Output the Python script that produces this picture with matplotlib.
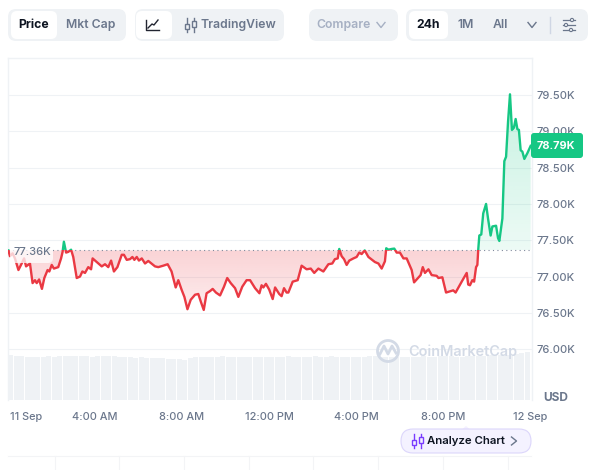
import matplotlib
matplotlib.use('Agg')
import matplotlib.pyplot as plt
import numpy as np
from matplotlib.patches import FancyBboxPatch, Rectangle, PathPatch, Circle, Polygon
from matplotlib.path import Path

plt.rcParams['font.family'] = ['Inter', 'DejaVu Sans']

base_price = 77.36
last_price = 78.79

hours = [0.02,0.09,0.21,0.32,0.48,0.63,0.74,0.83,1.01,1.13,1.24,1.32,1.43,1.56,1.67,1.82,1.90,2.01,2.11,2.31,
         2.44,2.51,2.57,2.67,2.77,2.90,3.00,3.16,3.31,3.42,3.54,3.69,3.82,3.89,4.08,4.31,4.46,4.61,4.74,4.87,
         5.03,5.23,5.33,5.46,5.61,5.72,5.81,5.92,6.02,6.15,6.30,6.45,6.76,6.91,7.14,7.34,7.52,7.71,7.83,7.98,
         8.11,8.25,8.40,8.60,8.75,8.87,9.00,9.13,9.29,9.41,9.56,9.75,9.93,10.08,10.24,10.44,10.59,10.77,10.97,11.13,
         11.36,11.56,11.66,11.74,11.86,12.01,12.17,12.28,12.47,12.58,12.69,12.81,12.89,13.09,13.32,13.50,13.73,13.92,14.08,14.27,
         14.50,14.73,14.91,15.03,15.16,15.23,15.34,15.45,15.57,15.69,15.88,16.03,16.15,16.26,16.40,16.57,16.87,17.03,17.18,17.33,
         17.39,17.49,17.64,17.76,17.87,18.02,18.18,18.33,18.56,18.67,18.79,18.97,19.07,19.17,19.33,19.48,19.71,19.79,19.97,20.14,
         20.47,20.58,20.86,21.09,21.16,21.24,21.35,21.43,21.52,21.58,21.62,21.67,21.76,21.85,21.98,22.07,22.19,22.27,22.44,22.53,
         22.59,22.73,22.77,22.82,22.90,22.99,23.08,23.17,23.26,23.34,23.42,23.49,23.57,23.65,23.74,23.88,24.03]
prices = [77.36,77.28,77.32,77.25,77.09,77.18,77.25,77.14,77.18,76.91,76.95,76.91,76.96,76.83,76.98,77.09,77.07,77.16,77.11,77.13,
          77.25,77.34,77.48,77.33,77.34,77.37,77.27,76.98,77.00,77.07,77.05,77.13,77.10,77.25,77.20,77.14,77.17,77.13,77.22,77.07,
          77.13,77.30,77.30,77.23,77.24,77.27,77.23,77.27,77.22,77.25,77.18,77.215,77.14,77.13,77.15,77.17,77.07,76.85,76.95,76.82,
          76.72,76.55,76.68,76.75,76.76,76.65,76.54,76.77,76.80,76.83,76.78,76.74,76.86,76.98,76.91,76.84,76.72,76.86,76.95,76.95,
          76.84,76.77,76.88,76.85,76.90,76.82,76.69,76.85,76.76,76.73,76.84,76.78,76.78,76.93,76.95,77.15,77.10,77.11,77.05,77.11,
          77.07,77.17,77.18,77.24,77.25,77.38,77.28,77.24,77.16,77.22,77.25,77.27,77.33,77.31,77.36,77.27,77.20,77.18,77.11,77.21,
          77.39,77.37,77.38,77.385,77.33,77.33,77.25,77.25,77.09,76.92,76.96,77.02,77.13,77.05,77.10,77.02,77.01,76.98,76.99,76.78,
          76.81,76.78,76.93,77.05,76.89,76.88,76.95,76.93,77.13,77.16,77.37,77.565,77.58,77.87,78.00,77.80,77.565,77.69,77.70,77.53,
          77.49,77.80,78.17,78.59,78.65,79.13,79.51,79.02,79.05,79.17,79.03,79.02,78.74,78.72,78.62,78.70,78.80]

# volume, one bar per 15 min, arbitrary units (px tall in the reference)
volume = [45,44,44,43,43,43,43,44,43,44,44,44,44,44,44,43,44,44,44,44,43,43,43,42,
          43,42,42,42,42,41,41,41,40,42,43,43,43,43,43,44,43,43,43,43,43,43,43,43,
          43,43,43,44,43,43,43,43,44,43,43,44,43,43,43,43,43,43,44,44,43,43,43,43,
          43,43,43,43,44,43,43,44,44,44,43,43,44,44,44,44,45,45,45,45,45,46,47,48]

price_ticks = [76.0,76.5,77.0,77.5,78.0,78.5,79.0,79.5]
price_labels = ['76.00K','76.50K','77.00K','77.50K','78.00K','78.50K','79.00K','79.50K']
time_ticks = [0.1,4,8,12,16,20,24]
time_labels = ['11 Sep','4:00 AM','8:00 AM','12:00 PM','4:00 PM','8:00 PM','12 Sep']

RED = '#ea3943'
GREEN = '#16c784'
GRID = '#eff2f5'
TICK = '#6b778c'

W, H = 596, 470
fig = plt.figure(figsize=(W/100, H/100), dpi=100)

# main chart, px box 8..532 x 58..400
ax = fig.add_axes([8/W, 1-400/H, 524/W, 342/H])
xlim = (0, 524/21.75)
ylim = (75.30, 80.01)

# volume
ax_v = ax.twinx()
ax_v.set_ylim(0, 342)
ax_v.set_xlim(xlim)
ax_v.axis('off')
ax_v.bar(np.arange(len(volume))*0.25+0.125, volume, width=0.23, color='#eff2f5', zorder=1)

ax.set_xlim(xlim)
ax.set_ylim(ylim)
ax.spines['bottom'].set_visible(False)
for s in ['top','left','right']:
    ax.spines[s].set_color(GRID)
    ax.spines[s].set_linewidth(1)
ax.set_axisbelow(True)
ax.grid(axis='y', color=GRID, lw=0.8)
ax.yaxis.tick_right()
ax.set_yticks(price_ticks)
ax.set_yticklabels(price_labels, fontsize=8, color=TICK, fontweight='medium')
ax.set_xticks(time_ticks)
ax.set_xticklabels(time_labels, fontsize=7.9, color=TICK, fontweight='medium')
ax.tick_params(axis='both', length=0)
ax.tick_params(axis='y', pad=3.5)
ax.tick_params(axis='x', pad=9)
ax.get_xticklabels()[0].set_ha('left')

t = np.array(hours)
p = np.array(prices)

# gradient fills
def grad_fill(where, a_top, a_bot, color, y0, y1):
    poly = ax.fill_between(t, p, base_price, where=where, interpolate=True, alpha=0)
    clip = PathPatch(Path.make_compound_path(*poly.get_paths()), transform=ax.transData, fc='none', ec='none')
    ax.add_patch(clip)
    f = np.linspace(0, 1, 100)
    img = np.zeros((100, 1, 4))
    img[:, :, :3] = matplotlib.colors.to_rgb(color)
    img[:, 0, 3] = a_top*(1-f)+a_bot*f
    im = ax.imshow(img, extent=[xlim[0], xlim[1], y0, y1], origin='upper', aspect='auto', zorder=2)
    im.set_clip_path(clip)

grad_fill(p >= base_price, 0.24, 0.08, GREEN, base_price, 79.51)
grad_fill(p <= base_price, 0.22, 0.10, RED, 76.54, base_price)
ax.set_xlim(xlim)
ax.set_ylim(ylim)

ax.axhline(base_price, color='#808a9d', lw=0.8, ls=(0, (1, 3)), zorder=3)

# line split at the open price
l1, = ax.plot(t, p, color=RED, lw=1.7, zorder=4, solid_joinstyle='round')
l1.set_clip_path(Rectangle((xlim[0], ylim[0]), xlim[1], base_price-ylim[0], transform=ax.transData))
l2, = ax.plot(t, p, color=GREEN, lw=1.7, zorder=4, solid_joinstyle='round')
l2.set_clip_path(Rectangle((xlim[0], base_price), xlim[1], ylim[1]-base_price, transform=ax.transData))

# overlay in px coords for the page chrome
ui = fig.add_axes([0, 0, 1, 1], zorder=10)
ui.set_xlim(0, W)
ui.set_ylim(H, 0)
ui.axis('off')
ui.patch.set_alpha(0)

def pill(x0, y0, x1, y1, fc, r=6, ec='none', lw=0, alpha=None):
    ui.add_patch(FancyBboxPatch((x0+r, y0+r), x1-x0-2*r, y1-y0-2*r,
                                boxstyle='round,pad=%d,rounding_size=%d' % (r, r),
                                fc=fc, ec=ec, lw=lw, alpha=alpha))

def label(x, y, s, color, weight='semibold', size=8.8, ha='center'):
    ui.text(x, y, s, color=color, fontsize=size, fontweight=weight, ha=ha, va='center')

def chevron(x, y, c, w=4, h=2.5, d=1):
    ui.plot([x-w, x, x+w] if d else [x-h, x+h, x-h],
            [y-h, y+h, y-h] if d else [y-w, y, y+w], color=c, lw=1)

def candles(x, y, c, bg, lw=1):
    for dx in (-3.5, 3.5):
        ui.plot([x+dx, x+dx], [y-7, y+7], color=c, lw=lw)
    ui.add_patch(Rectangle((x-5.5, y-1), 4, 5, fc=bg, ec=c, lw=lw, zorder=3))
    ui.add_patch(Rectangle((x+1.5, y-4), 4, 6, fc=bg, ec=c, lw=lw, zorder=3))

# top controls
pill(8, 9, 126, 41, GRID, 8)
pill(11, 11, 57, 39, 'white', 6)
label(33.5, 25, 'Price', '#0d1421', 'bold')
label(91, 25, 'Mkt Cap', TICK)

pill(135, 9, 284, 41, GRID, 8)
pill(136, 11, 172, 39, 'white', 6)
ui.plot([146, 146, 159], [20, 30, 30], color='#222531', lw=1)
ui.plot([148, 152, 154, 158], [28, 24, 25, 20], color='#222531', lw=1)
candles(190, 25, TICK, GRID)
label(238, 25, 'TradingView', TICK)

pill(309, 9, 398, 41, GRID, 8)
label(344, 25, 'Compare', '#a6b0c3')
chevron(381, 25, '#a6b0c3')

pill(406, 9, 588, 41, GRID, 8)
pill(409, 11, 448, 39, 'white', 6)
label(428, 25, '24h', '#0d1421', 'bold')
label(466, 25, '1M', TICK)
label(500, 25, 'All', TICK)
chevron(532, 25, TICK)
ui.plot([550, 550], [17, 33], color='#cfd6e4', lw=1)
for yy, xk in [(20, 572), (25, 566), (30, 571)]:
    ui.plot([563, 575], [yy, yy], color=TICK, lw=0.9)
    ui.add_patch(Circle((xk, yy), 1.6, fc=GRID, ec=TICK, lw=0.8, zorder=3))

# open price tag
pill(10, 246, 53, 263, 'white', 5, alpha=0.75)
label(32, 252, '77.36K', TICK, 'medium', 8)

# last price tag
pill(531, 133, 583, 158, GREEN, 3)
label(556, 146, '78.79K', 'white', 'bold', 7.9)
label(556, 398, 'USD', TICK, 'bold', 8.6)

# watermark
ui.add_patch(Circle((388, 351), 10.5, fc='none', ec='#d3dae6', lw=2))
ui.plot([380, 384, 388, 392, 396], [354, 346, 354, 346, 353], color='#d3dae6', lw=2)
ui.text(408, 351.5, 'CoinMarketCap', color='#d3dae6', fontsize=10.4, fontweight='semibold', ha='left', va='center')

# analyze chart button
ui.add_patch(Polygon([[462, 429.5], [466, 426], [470, 429.5]], fc='#f3f0ff', ec='none'))
pill(401, 429, 531, 453, '#f4f2ff', 12, '#dcd6fb', 0.8)
candles(417, 441, '#7a3cff', '#f4f2ff', 1)
label(465.5, 441, 'Analyze Chart', '#0d1421', 'semibold', 8.2)
chevron(514, 441, TICK, d=0)

# cut off table below
ui.plot([8, 531], [455.5, 455.5], color='#f3f4f6', lw=0.8)
for xx in [55, 119, 184, 249, 313, 378, 443, 508]:
    ui.plot([xx, xx], [456, 470], color='#f3f4f6', lw=0.8)

fig.savefig('out.png', dpi=100)
